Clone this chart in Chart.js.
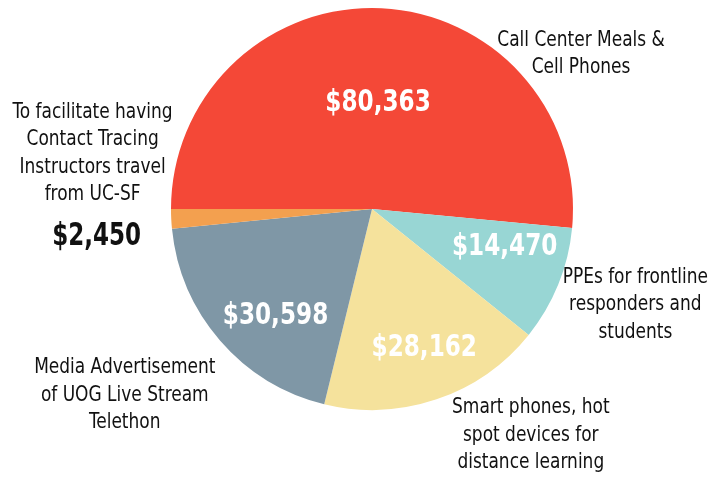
<!DOCTYPE html>
<html>
<head>
<meta charset="utf-8">
<script src="https://cdn.jsdelivr.net/npm/chart.js@4/dist/chart.umd.min.js"></script>
<style>
  html, body { margin: 0; padding: 0; background: #fff; }
  #wrap { width: 728px; height: 479px; }
</style>
</head>
<body>
<div id="wrap"><canvas id="pie"></canvas></div>
<script>
const categories = [
  "Call Center Meals & Cell Phones",
  "PPEs for frontline responders and students",
  "Smart phones, hot spot devices for distance learning",
  "Media Advertisement of UOG Live Stream Telethon",
  "To facilitate having Contact Tracing Instructors travel from UC-SF",
];
const amounts = [80363, 14470, 28162, 30598, 2450];
const sliceColors = ["#f44837", "#98d6d4", "#f5e29c", "#7f97a6", "#f3a04f"];

// outside captions, one list of lines per slice
const captions = [
  ["Call Center Meals &", "Cell Phones"],
  ["PPEs for frontline", "responders and", "students"],
  ["Smart phones, hot", "spot devices for", "distance learning"],
  ["Media Advertisement", "of UOG Live Stream", "Telethon"],
  ["To facilitate having", "Contact Tracing", "Instructors travel", "from UC-SF"],
];

// label placement, offsets from pie centre in units of radius
const valuePos = [[0.03, -0.53], [0.66, 0.19], [0.26, 0.69], [-0.48, 0.53], null];
const captionPos = [[1.04, -0.84], [1.31, 0.34], [0.79, 0.99], [-1.23, 0.79], [-1.39, -0.48]];

const money = (v) => "$" + v.toLocaleString("en-US");
const FONT = "'DejaVu Sans Condensed', 'DejaVu Sans', sans-serif";

// no narrow face installed, so squeeze the condensed one a bit
function narrowText(ctx, text, x, y, sx) {
  ctx.save();
  ctx.translate(x, y);
  ctx.scale(sx, 1);
  ctx.fillText(text, 0, 0);
  ctx.restore();
}

const labelPlugin = {
  id: "sliceLabels",
  afterDatasetsDraw(chart) {
    const ctx = chart.ctx;
    const arcs = chart.getDatasetMeta(0).data;
    ctx.save();
    ctx.textAlign = "center";
    ctx.textBaseline = "middle";
    arcs.forEach((arc, i) => {
      const { x, y, outerRadius: r } = arc.getProps(["x", "y", "outerRadius"], true);
      if (valuePos[i]) {
        ctx.fillStyle = "#fff";
        ctx.font = "bold 31px " + FONT;
        narrowText(ctx, money(amounts[i]), x + valuePos[i][0] * r, y + valuePos[i][1] * r, 0.83);
      }
      const lines = captions[i];
      const cx = x + captionPos[i][0] * r;
      const cy = y + captionPos[i][1] * r;
      ctx.fillStyle = "#111";
      ctx.font = "21px " + FONT;
      lines.forEach((t, k) => narrowText(ctx, t, cx, cy + k * 27.5, 0.9));
      if (!valuePos[i]) {
        ctx.font = "bold 32px " + FONT;
        narrowText(ctx, money(amounts[i]), cx + 4, cy + lines.length * 27.5 + 14, 0.8);
      }
    });
    ctx.restore();
  },
};

new Chart(document.getElementById("pie"), {
  type: "pie",
  data: {
    labels: categories,
    datasets: [{ data: amounts, backgroundColor: sliceColors, borderWidth: 0 }],
  },
  options: {
    responsive: true,
    maintainAspectRatio: false,
    animation: false,
    rotation: -90,
    layout: { padding: { top: 8, bottom: 69, left: 171, right: 155 } },
    plugins: { legend: { display: false }, tooltip: { enabled: false } },
  },
  plugins: [labelPlugin],
});
</script>
</body>
</html>
